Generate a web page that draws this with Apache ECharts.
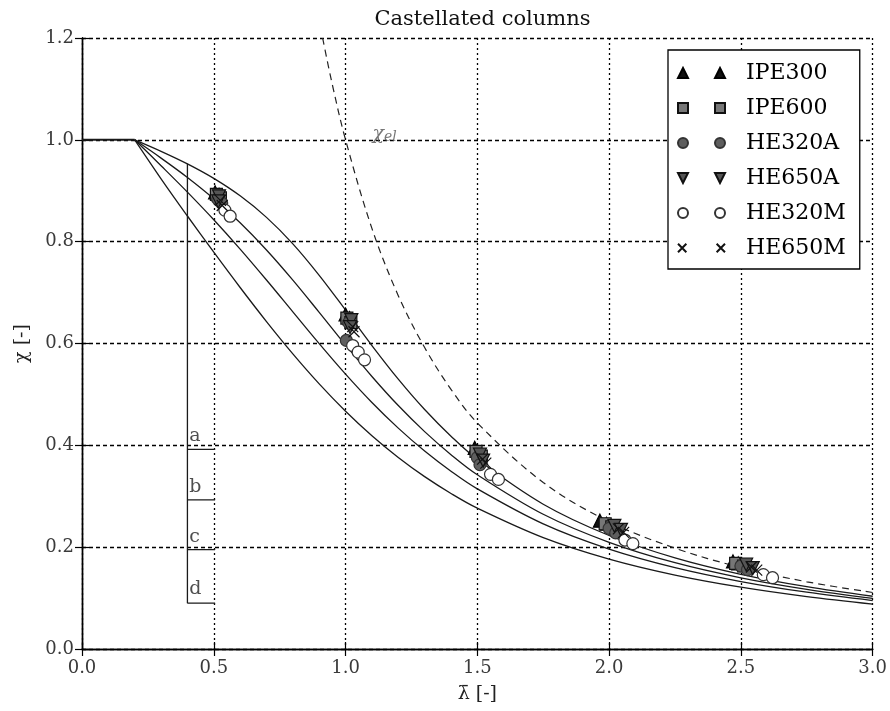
<!DOCTYPE html>
<html>
<head>
<meta charset="utf-8">
<script src="https://cdn.jsdelivr.net/npm/echarts@6/dist/echarts.min.js"></script>
<style>
  html, body { margin: 0; padding: 0; background: #fff; }
  #chart { width: 890px; height: 711px; }
</style>
</head>
<body>
<div id="chart"></div>
<script>
// Reduced slenderness grid used for the buckling curves
const lambdaGrid = [0.2, 0.3, 0.4, 0.5, 0.6, 0.7, 0.8, 0.9, 1.0, 1.1, 1.2, 1.3, 1.4, 1.5, 1.75, 2.0, 2.25, 2.5, 2.75, 3.0];
const curveA = [1, 0.9775, 0.9528, 0.9243, 0.8900, 0.8477, 0.7957, 0.7339, 0.6656, 0.5960, 0.5300, 0.4703, 0.4179, 0.3724, 0.2843, 0.2229, 0.1790, 0.1467, 0.1224, 0.1036];
const curveB = [1, 0.9641, 0.9261, 0.8842, 0.8371, 0.7837, 0.7245, 0.6612, 0.5970, 0.5352, 0.4781, 0.4269, 0.3817, 0.3422, 0.2646, 0.2095, 0.1694, 0.1397, 0.1170, 0.0994];
const curveC = [1, 0.9491, 0.8973, 0.8430, 0.7854, 0.7247, 0.6622, 0.5998, 0.5399, 0.4842, 0.4338, 0.3888, 0.3492, 0.3145, 0.2457, 0.1962, 0.1598, 0.1325, 0.1115, 0.0951];
const curveD = [1, 0.9235, 0.8504, 0.7793, 0.7100, 0.6431, 0.5797, 0.5208, 0.4671, 0.4189, 0.3762, 0.3385, 0.3055, 0.2766, 0.2188, 0.1766, 0.1452, 0.1214, 0.1029, 0.0882];
const plateauLambda = [0, 0.2];
const plateauChi = [1, 1];

// Elastic (Euler) curve
const eulerLambda = [0.913, 0.95, 1.0, 1.1, 1.2, 1.3, 1.4, 1.5, 1.75, 2.0, 2.25, 2.5, 2.75, 3.0];
const eulerChi = [1.2, 1.108, 1.0, 0.826, 0.694, 0.592, 0.510, 0.444, 0.327, 0.25, 0.198, 0.16, 0.132, 0.111];

// Curve key: a..d
const curveNames = ['a', 'b', 'c', 'd'];
const keyLevels = [0.392, 0.293, 0.195, 0.09];
const keyTop = 0.953;
const keyLambda = [0.4, 0.505];
const keyLabelChi = [0.418, 0.318, 0.220, 0.118];
const keyLabelLambda = 0.405;

// Numerical results per section [lambda, chi]
const sectionNames = ['IPE300', 'IPE600', 'HE320A', 'HE650A', 'HE320M', 'HE650M'];
const ipe300 = [[0.505,0.897],[0.52,0.892],[1.0,0.657],[1.015,0.650],[1.49,0.395],[1.505,0.386],[1.965,0.252],[1.99,0.246],[2.47,0.172],[2.49,0.168]];
const ipe600 = [[0.51,0.893],[0.525,0.886],[1.005,0.650],[1.02,0.641],[1.495,0.388],[1.515,0.379],[1.985,0.246],[2.01,0.240],[2.48,0.168],[2.51,0.163]];
const he320a = [[0.515,0.884],[0.53,0.876],[1.012,0.641],[1.003,0.606],[1.50,0.376],[1.51,0.362],[2.0,0.237],[2.025,0.228],[2.50,0.163],[2.525,0.156]];
const he650a = [[0.52,0.889],[0.517,0.879],[1.022,0.646],[1.017,0.632],[1.51,0.382],[1.522,0.370],[2.02,0.242],[2.045,0.234],[2.52,0.166],[2.545,0.159]];
const he320m = [[0.542,0.862],[0.562,0.850],[1.027,0.596],[1.048,0.583],[1.072,0.568],[1.55,0.343],[1.58,0.333],[2.06,0.214],[2.09,0.207],[2.585,0.146],[2.62,0.140]];
const he650m = [[0.525,0.881],[0.532,0.871],[1.027,0.633],[1.032,0.623],[1.52,0.373],[1.532,0.365],[2.035,0.236],[2.055,0.229],[2.54,0.161],[2.56,0.155]];

const xTicks = { min: 0, max: 3, interval: 0.5 };
const yTicks = { min: 0, max: 1.2, interval: 0.2 };

const SERIF = 'DejaVu Serif';
const zip = (xs, ys) => xs.map((x, i) => [x, ys[i]]);

const P = {
  triUp:   'path://M5,0 L10,10 L0,10 Z',
  square:  'path://M0,0 L10,0 L10,10 L0,10 Z',
  circle:  'circle',
  triDown: 'path://M0,0 L10,0 L5,10 Z',
  cross:   'path://M0,0 L10,10 M10,0 L0,10'
};
// Two-marker legend icons (two samples per entry)
const L = {
  triUp:   'path://M5,0 L10,10 L0,10 Z M42,0 L47,10 L37,10 Z',
  square:  'path://M0,0 L10,0 L10,10 L0,10 Z M37,0 L47,0 L47,10 L37,10 Z',
  circle:  'path://M0,5 A5,5 0 1 1 10,5 A5,5 0 1 1 0,5 Z M37,5 A5,5 0 1 1 47,5 A5,5 0 1 1 37,5 Z',
  triDown: 'path://M0,0 L10,0 L5,10 Z M37,0 L47,0 L42,10 Z',
  cross:   'path://M1,1 L9,9 M9,1 L1,9 M38,1 L46,9 M46,1 L38,9'
};

const sectionStyle = [
  { data: ipe300, symbol: P.triUp,   icon: L.triUp,   size: 13, color: '#111', border: '#000' },
  { data: ipe600, symbol: P.square,  icon: L.square,  size: 12, color: '#777', border: '#111' },
  { data: he320a, symbol: P.circle,  icon: L.circle,  size: 12, color: '#5e5e5e', border: '#333' },
  { data: he650a, symbol: P.triDown, icon: L.triDown, size: 13, color: '#555', border: '#111' },
  { data: he320m, symbol: P.circle,  icon: L.circle,  size: 12, color: '#ffffff', border: '#333' },
  { data: he650m, symbol: P.cross,   icon: L.cross,   size: 11, color: '#111', border: '#111' }
];

const curveLine = { color: '#1a1a1a', width: 1.3 };
const series = [];

series.push({
  type: 'line', data: zip(plateauLambda, plateauChi), showSymbol: false,
  lineStyle: { color: '#1a1a1a', width: 2 }, silent: true, z: 2
});
[curveA, curveB, curveC, curveD].forEach(c => {
  series.push({
    type: 'line', data: zip(lambdaGrid, c), showSymbol: false, smooth: 0.35,
    lineStyle: curveLine, silent: true, z: 2
  });
});
series.push({
  type: 'line', data: zip(eulerLambda, eulerChi), showSymbol: false, smooth: 0.35,
  lineStyle: { color: '#222', width: 1.2, type: [7, 5] }, silent: true, z: 2
});

// Curve key bracket
series.push({
  type: 'line', data: [[keyLambda[0], keyTop], [keyLambda[0], keyLevels[3]]], showSymbol: false,
  lineStyle: curveLine, silent: true, z: 2
});
keyLevels.forEach(lv => {
  series.push({
    type: 'line', data: [[keyLambda[0], lv], [keyLambda[1], lv]], showSymbol: false,
    lineStyle: curveLine, silent: true, z: 2
  });
});
series.push({
  type: 'scatter', symbolSize: 1, itemStyle: { color: 'rgba(0,0,0,0)' }, silent: true,
  data: curveNames.map((n, i) => [keyLabelLambda, keyLabelChi[i], n]),
  label: {
    show: true, position: 'right', distance: 0, formatter: p => p.value[2],
    fontFamily: SERIF, fontSize: 19, color: '#222'
  }, z: 3
});

// Elastic curve label
series.push({
  type: 'scatter', symbolSize: 1, itemStyle: { color: 'rgba(0,0,0,0)' }, silent: true,
  data: [[1.1, 1.012]],
  label: {
    show: true, position: 'right', distance: 0,
    formatter: '{m|χ}{s|el}',
    rich: {
      m: { fontFamily: SERIF, fontStyle: 'italic', fontSize: 19, color: '#555' },
      s: { fontFamily: SERIF, fontStyle: 'italic', fontSize: 14, color: '#555', padding: [8, 0, 0, 0] }
    }
  }, z: 3
});

sectionStyle.forEach((s, i) => {
  series.push({
    name: sectionNames[i], type: 'scatter', data: s.data,
    symbol: s.symbol, symbolSize: s.size,
    itemStyle: { color: s.color, borderColor: s.border, borderWidth: 1.2, opacity: 1 },
    z: 5
  });
});

const gridLeft = 82, gridTop = 38, gridRight = 17, gridBottom = 62;
const plotCenter = gridLeft + (890 - gridLeft - gridRight) / 2;

const tickLabel = { fontFamily: SERIF, fontSize: 18, color: '#3a3a3a' };
const axisLine = { show: true, lineStyle: { color: '#000', width: 1.4 } };
const inTick = { show: true, inside: true, length: 7, lineStyle: { color: '#000', width: 1.2 } };

const chart = echarts.init(document.getElementById('chart'), null, { renderer: 'canvas' });
chart.setOption({
  backgroundColor: '#fff',
  animation: false,
  title: {
    text: 'Castellated columns', left: plotCenter, top: 4, textAlign: 'center',
    textStyle: { fontFamily: SERIF, fontSize: 21, fontWeight: 'normal', color: '#111' }
  },
  grid: { left: gridLeft, top: gridTop, right: gridRight, bottom: gridBottom },
  legend: {
    orient: 'vertical', left: 668, top: 50,
    data: sectionNames.map((n, i) => ({ name: n, icon: sectionStyle[i].icon })),
    itemWidth: 47, itemHeight: 11, itemGap: 13,
    padding: [12, 14, 10, 9],
    backgroundColor: '#fff', borderColor: '#000', borderWidth: 1.3, borderRadius: 0,
    textStyle: { fontFamily: SERIF, fontSize: 22, color: '#000', lineHeight: 22, padding: [0, 0, 0, 16] },
    selectedMode: false
  },
  xAxis: [
    {
      type: 'value', position: 'bottom', min: xTicks.min, max: xTicks.max, interval: xTicks.interval,
      axisLine, axisTick: inTick,
      axisLabel: { ...tickLabel, margin: 10, formatter: v => v.toFixed(1) },
      splitLine: { show: true, lineStyle: { color: '#000', width: 1.3, type: [2, 3] } },
      name: 'λ\u0304 [-]', nameLocation: 'middle', nameGap: 36,
      nameTextStyle: { fontFamily: SERIF, fontSize: 19, color: '#222' }
    },
    {
      type: 'value', position: 'top', min: xTicks.min, max: xTicks.max, interval: xTicks.interval,
      axisLine, axisTick: inTick, axisLabel: { show: false }, splitLine: { show: false }
    }
  ],
  yAxis: [
    {
      type: 'value', position: 'left', min: yTicks.min, max: yTicks.max, interval: yTicks.interval,
      axisLine, axisTick: inTick,
      axisLabel: { ...tickLabel, margin: 8, formatter: v => v.toFixed(1) },
      splitLine: { show: true, lineStyle: { color: '#000', width: 1.3, type: [4, 3] } },
      name: 'χ [-]', nameLocation: 'middle', nameGap: 50, nameRotate: 90,
      nameTextStyle: { fontFamily: SERIF, fontSize: 19, color: '#222' }
    },
    {
      type: 'value', position: 'right', min: yTicks.min, max: yTicks.max, interval: yTicks.interval,
      axisLine, axisTick: inTick, axisLabel: { show: false }, splitLine: { show: false }
    }
  ],
  series
});
</script>
</body>
</html>
